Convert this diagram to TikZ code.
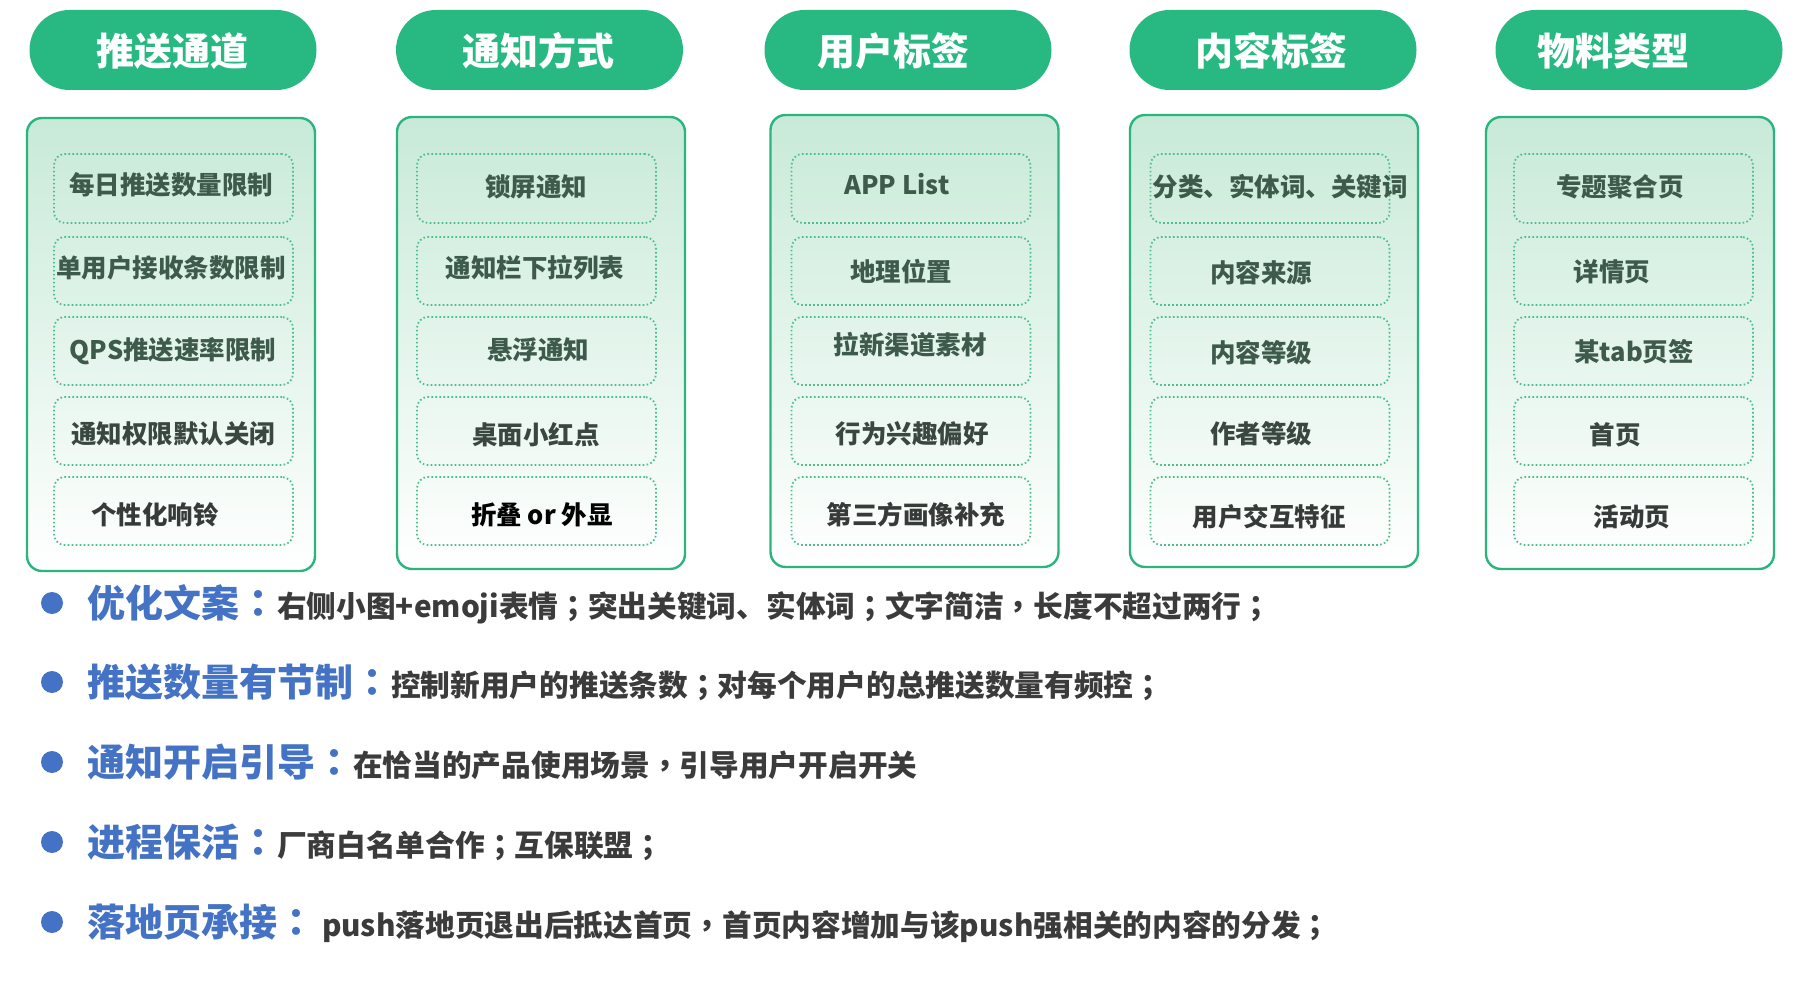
\documentclass[tikz,border=0pt]{standalone}
\usepackage{fontspec}
\setmainfont{Noto Sans CJK SC}
\newfontfamily\cjktc{Noto Sans CJK TC}
\newcommand\tcpunct[1]{{\cjktc #1}}
\definecolor{pillg}{HTML}{28B983}
\definecolor{contg}{HTML}{2AB47E}
\definecolor{dotg}{HTML}{4DBF8E}
\definecolor{topg}{HTML}{C8EAD8}
\definecolor{txtg}{HTML}{3D5A4B}
\definecolor{txtm}{HTML}{3A4741}
\definecolor{txtd}{HTML}{363A38}
\definecolor{bblue}{HTML}{4472C4}
\definecolor{bgray}{HTML}{3B3B3B}
\begin{document}
\begin{tikzpicture}[x=1pt,y=-1pt,
 pill/.style={fill=pillg, rounded corners=40pt, minimum width=287pt, minimum height=80pt, inner sep=0pt, draw=none},
 pilltxt/.style={text=white, font=\fontsize{38}{40}\selectfont\bfseries, inner sep=0pt},
 cont/.style={draw=contg, line width=2.4pt, rounded corners=15pt, top color=topg, bottom color=white, minimum width=288pt, inner sep=0pt},
 itembox/.style={draw=dotg, line width=1.8pt, dash pattern=on 1.6pt off 2.4pt, rounded corners=11pt, minimum width=239pt, minimum height=68pt, inner sep=0pt},
 itemtxt/.style={font=\fontsize{25.5}{27}\selectfont\bfseries, inner sep=0pt, text=txtg},
 bdot/.style={circle, fill=bblue, minimum size=22pt, inner sep=0pt},
 bline/.style={anchor=base west, inner sep=0pt, text=bgray, font=\fontsize{29.7}{32}\selectfont\bfseries},
 bhead/.style={text=bblue, font=\fontsize{38}{40}\selectfont\bfseries}
]
\useasboundingbox (0,0) rectangle (1808,984);
\fill[white] (0,0) rectangle (1808,984);

% headers
\node[pill] (h1) at (173,50) {};
\node[pill] (h2) at (539.5,50) {};
\node[pill] (h3) at (908,50) {};
\node[pill] (h4) at (1273,50) {};
\node[pill] (h5) at (1639,50) {};
\node[pilltxt] (ht1) at (172,51) {推送通道};
\node[pilltxt] (ht2) at (538,51) {通知方式};
\node[pilltxt] (ht3) at (893,51) {用户标签};
\node[pilltxt] (ht4) at (1271,51) {内容标签};
\node[pilltxt] (ht5) at (1613,51) {物料类型};

% containers
\node[cont, minimum height=453pt] (c1) at (171,344.5) {};
\node[cont, minimum height=452pt] (c2) at (541,343) {};
\node[cont, minimum height=452pt] (c3) at (914.5,341) {};
\node[cont, minimum height=452pt] (c4) at (1274,341) {};
\node[cont, minimum height=452pt] (c5) at (1630,343) {};

% item boxes
\foreach \c/\x in {1/173.5,2/536.5,3/911,4/1270,5/1633.5}{
  \node[itembox, minimum height=69pt] (b\c1) at (\x,188.5) {};
  \node[itembox] (b\c2) at (\x,271) {};
  \node[itembox] (b\c3) at (\x,351) {};
  \node[itembox] (b\c4) at (\x,431) {};
  \node[itembox] (b\c5) at (\x,511) {};
}

% column 1
\node[itemtxt] (t11) at (171,185) {每日推送数量限制};
\node[itemtxt] (t12) at (171,268) {单用户接收条数限制};
\node[itemtxt] (t13) at (173,351) {QPS推送速率限制};
\node[itemtxt, text=txtm] (t14) at (173,434) {通知权限默认关闭};
\node[itemtxt, text=txtd] (t15) at (155,515) {个性化响铃};
% column 2
\node[itemtxt] (t21) at (536,187) {锁屏通知};
\node[itemtxt] (t22) at (535,268) {通知栏下拉列表};
\node[itemtxt] (t23) at (538,350) {悬浮通知};
\node[itemtxt, text=txtm] (t24) at (536,435) {桌面小红点};
\node[itemtxt, text=black] (t25) at (542,515) {折叠 or 外显};
% column 3
\node[itemtxt] (t31) at (897,184) {APP List};
\node[itemtxt] (t32) at (901,272) {地理位置};
\node[itemtxt] (t33) at (910,345) {拉新渠道素材};
\node[itemtxt, text=txtm] (t34) at (912,434) {行为兴趣偏好};
\node[itemtxt, text=txtd] (t35) at (916,515) {第三方画像补充};
% column 4
\node[itemtxt] (t41) at (1280,187) {分类、实体词、关键词};
\node[itemtxt] (t42) at (1261,273) {内容来源};
\node[itemtxt] (t43) at (1261,353) {内容等级};
\node[itemtxt, text=txtm] (t44) at (1261,434) {作者等级};
\node[itemtxt, text=txtd] (t45) at (1269,517) {用户交互特征};
% column 5
\node[itemtxt] (t51) at (1620,187) {专题聚合页};
\node[itemtxt] (t52) at (1612,272) {详情页};
\node[itemtxt] (t53) at (1634,352) {某tab页签};
\node[itemtxt, text=txtm] (t54) at (1615,435) {首页};
\node[itemtxt, text=txtd] (t55) at (1632,517) {活动页};

% bullets
\node[bdot] (d1) at (52,603) {};
\node[bdot] (d2) at (52,682) {};
\node[bdot] (d3) at (52,762) {};
\node[bdot] (d4) at (52,842) {};
\node[bdot] (d5) at (52,922) {};
\node[bline] (l1) at (87,617) {{\color{bblue}\fontsize{38}{40}\selectfont 优化文案\tcpunct{：}}右侧小图+emoji表情\tcpunct{；}突出关键词、实体词\tcpunct{；}文字简洁\tcpunct{，}长度不超过两行\tcpunct{；}};
\node[bline] (l2) at (87,696) {{\color{bblue}\fontsize{38}{40}\selectfont 推送数量有节制\tcpunct{：}}控制新用户的推送条数\tcpunct{；}对每个用户的总推送数量有频控\tcpunct{；}};
\node[bline] (l3) at (87,776) {{\color{bblue}\fontsize{38}{40}\selectfont 通知开启引导\tcpunct{：}}在恰当的产品使用场景\tcpunct{，}引导用户开启开关};
\node[bline] (l4) at (87,856) {{\color{bblue}\fontsize{38}{40}\selectfont 进程保活\tcpunct{：}}厂商白名单合作\tcpunct{；}互保联盟\tcpunct{；}};
\node[bline] (l5) at (87,936) {{\color{bblue}\fontsize{38}{40}\selectfont 落地页承接\tcpunct{：}} push落地页退出后抵达首页\tcpunct{，}首页内容增加与该push强相关的内容的分发\tcpunct{；}};
\end{tikzpicture}
\end{document}
